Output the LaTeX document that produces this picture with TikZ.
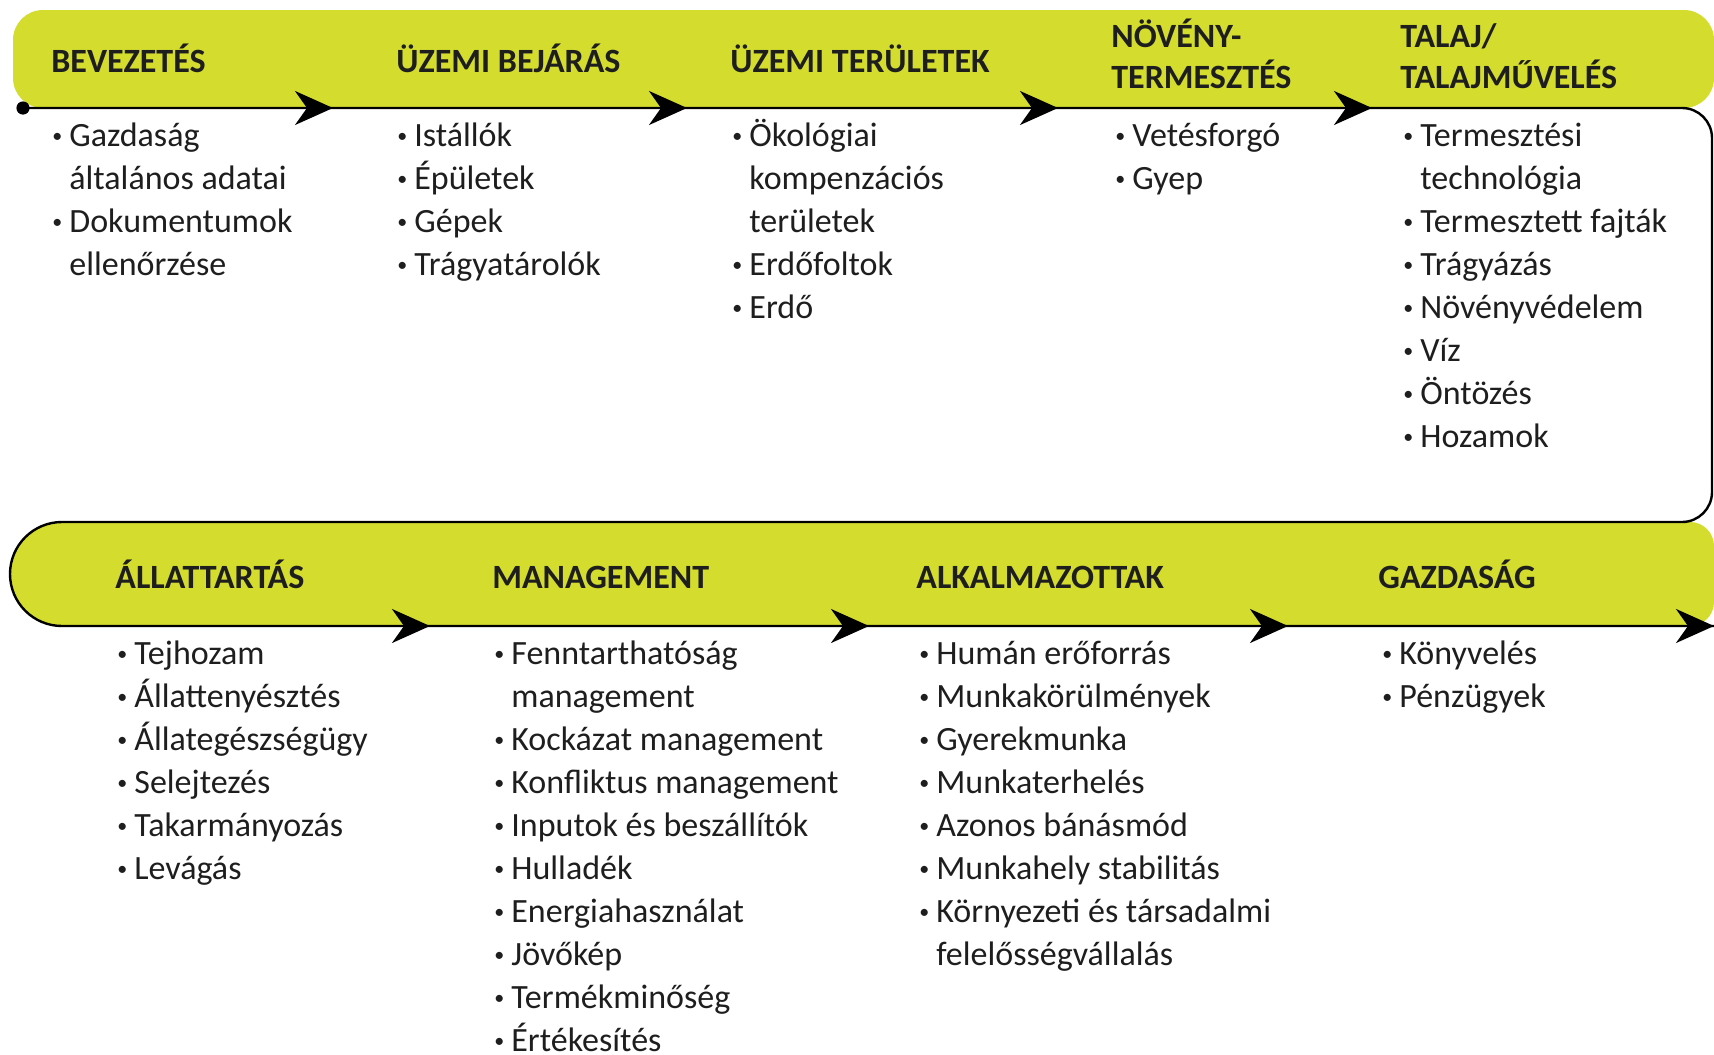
\documentclass[tikz,border=0pt]{standalone}
\usepackage{fontspec}
\setmainfont{Carlito}
\usepackage{tikz}
\usetikzlibrary{arrows.meta}

\definecolor{bandyellow}{RGB}{212,220,46}
\definecolor{txt}{RGB}{30,30,30}
\newcommand{\bi}{\rule{0pt}{15.05pt}\makebox[9.5pt][l]{\hspace{1pt}\raisebox{1.8pt}{\fontsize{10}{10}\selectfont •}}}
\newcommand{\ci}{\rule{0pt}{15.05pt}\hspace*{9.5pt}}

\begin{document}
\begin{tikzpicture}[x=0.5pt,y=-0.5pt]
        \tikzstyle{every node} = [inner sep=0pt, text=txt]
        \tikzstyle{head} = [anchor=north west, align=left, font=\bfseries\fontsize{17}{20.5}\selectfont]
        \tikzstyle{items} = [anchor=north west, align=left, font=\fontsize{17}{21.5}\selectfont]
        \tikzstyle{band} = [fill=bandyellow]
        \tikzstyle{flow} = [line width=1.2pt]
        \tikzstyle{tip} = [flow, -{Stealth[length=19pt,width=17pt,inset=6pt]}]
        \useasboundingbox (0,0) rectangle (1714,1055);
        \clip (0,0) rectangle (1714,1055);

        % yellow bands
        \fill[band, rounded corners=15pt] (13,10) rectangle (1714,108);
        \fill[band] (1714,522) [rounded corners=26pt] -- (10,522) -- (10,626) [rounded corners=12pt] -- (1714,626) -- cycle;

        % the flow line
        \coordinate (d) at (23,108);
        \coordinate (a1) at (333,108);
        \coordinate (a2) at (687,108);
        \coordinate (a3) at (1058,108);
        \coordinate (a4) at (1372,108);
        \coordinate (r1) at (1712,108);
        \coordinate (r2) at (1712,522);
        \coordinate (q1) at (10,522);
        \coordinate (q2) at (10,626);
        \coordinate (b0) at (80,626);
        \coordinate (b1) at (430,626);
        \coordinate (b2) at (869,626);
        \coordinate (b3) at (1288,626);
        \coordinate (b4) at (1714,626);

        \draw[flow] (d) -- (a4) [rounded corners=15pt] -- (r1) -- (r2) [rounded corners=26pt] -- (q1) -- (q2) [sharp corners] -- (b4);
        \fill (d) circle (3.3pt);
        \foreach \from/\to in {d/a1, a1/a2, a2/a3, a3/a4, b0/b1, b1/b2, b2/b3, b3/b4}
            \draw[tip] (\from) -- (\to);

        % headings
        \node[head] (h1) at (51,43) {\strut BEVEZETÉS};
        \node[head] (h2) at (396,43) {\strut ÜZEMI BEJÁRÁS};
        \node[head] (h3) at (730,43) {\strut ÜZEMI TERÜLETEK};
        \node[head] (h4) at (1111,18) {\strut NÖVÉNY-\\\strut TERMESZTÉS};
        \node[head] (h5) at (1400,18) {\strut TALAJ/\\\strut TALAJMŰVELÉS};
        \node[head] (h6) at (115,559) {\strut ÁLLATTARTÁS};
        \node[head] (h7) at (492,559) {\strut MANAGEMENT};
        \node[head] (h8) at (916,559) {\strut ALKALMAZOTTAK};
        \node[head] (h9) at (1378,559) {\strut GAZDASÁG};

        % lists
        \node[items] (l1) at (50,116) {\bi Gazdaság\\\ci általános adatai\\\bi Dokumentumok\\\ci ellenőrzése};
        \node[items] (l2) at (395,116) {\bi Istállók\\\bi Épületek\\\bi Gépek\\\bi Trágyatárolók};
        \node[items] (l3) at (730,116) {\bi Ökológiai\\\ci kompenzációs\\\ci területek\\\bi Erdőfoltok\\\bi Erdő};
        \node[items] (l4) at (1113,116) {\bi Vetésforgó\\\bi Gyep};
        \node[items] (l5) at (1401,116) {\bi Termesztési\\\ci technológia\\\bi Termesztett fajták\\\bi Trágyázás\\\bi Növényvédelem\\\bi Víz\\\bi Öntözés\\\bi Hozamok};
        \node[items] (l6) at (115,634) {\bi Tejhozam\\\bi Állattenyésztés\\\bi Állategészségügy\\\bi Selejtezés\\\bi Takarmányozás\\\bi Levágás};
        \node[items] (l7) at (492,634) {\bi Fenntarthatóság\\\ci management\\\bi Kockázat management\\\bi Konfliktus management\\\bi Inputok és beszállítók\\\bi Hulladék\\\bi Energiahasználat\\\bi Jövőkép\\\bi Termékminőség\\\bi Értékesítés};
        \node[items] (l8) at (917,634) {\bi Humán erőforrás\\\bi Munkakörülmények\\\bi Gyerekmunka\\\bi Munkaterhelés\\\bi Azonos bánásmód\\\bi Munkahely stabilitás\\\bi Környezeti és társadalmi\\\ci felelősségvállalás};
        \node[items] (l9) at (1380,634) {\bi Könyvelés\\\bi Pénzügyek};
\end{tikzpicture}
\end{document}
